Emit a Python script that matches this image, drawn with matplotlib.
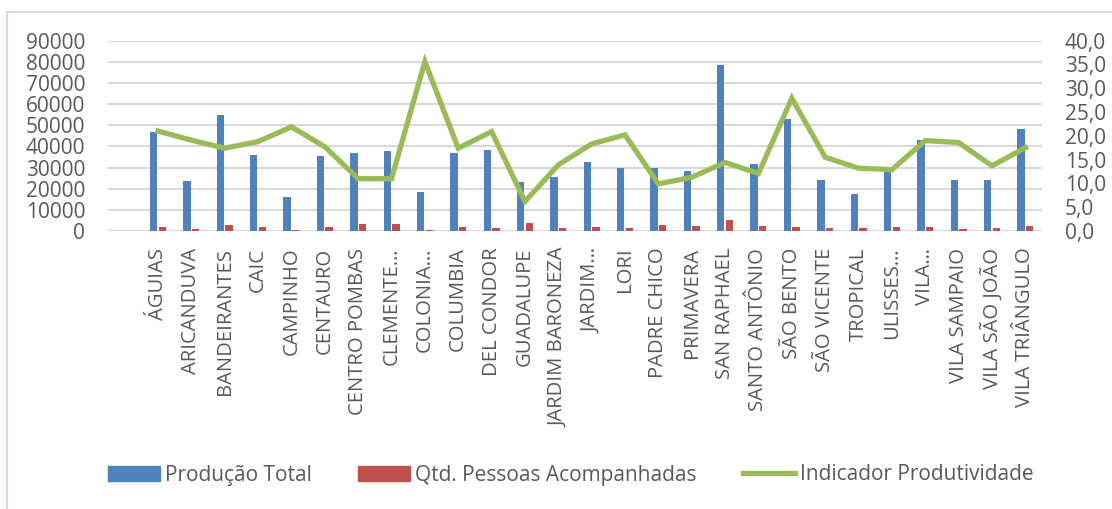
import numpy as np
import matplotlib.pyplot as plt
from matplotlib.patches import Rectangle
from matplotlib.lines import Line2D

plt.rcParams['font.family'] = ['Open Sans', 'DejaVu Sans']

categorias = ['ÁGUIAS', 'ARICANDUVA', 'BANDEIRANTES', 'CAIC', 'CAMPINHO', 'CENTAURO',
              'CENTRO POMBAS', 'CLEMENTE…', 'COLONIA…', 'COLUMBIA', 'DEL CONDOR',
              'GUADALUPE', 'JARDIM BARONEZA', 'JARDIM…', 'LORI', 'PADRE CHICO',
              'PRIMAVERA', 'SAN RAPHAEL', 'SANTO ANTÔNIO', 'SÃO BENTO', 'SÃO VICENTE',
              'TROPICAL', 'ULISSES…', 'VILA…', 'VILA SAMPAIO', 'VILA SÃO JOÃO',
              'VILA TRIÂNGULO']

producao_total = [47000, 23800, 55000, 36000, 16100, 35500, 36750, 38000, 18450,
                  36900, 38500, 23300, 25700, 32650, 30000, 29650, 28200, 78700,
                  31700, 52800, 24300, 17350, 28500, 43000, 24100, 24000, 48100]

qtd_pessoas = [2050, 950, 3000, 1900, 600, 1900, 3150, 3300, 500, 1750, 1600, 3600,
               1600, 1700, 1300, 2850, 2200, 5200, 2400, 1750, 1300, 1300, 1900,
               2050, 950, 1600, 2500]

indicador = [21.0, 19.1, 17.4, 18.8, 21.9, 17.7, 11.0, 11.0, 35.6, 17.4, 20.9, 6.2,
             13.9, 18.3, 20.2, 9.9, 11.3, 14.4, 12.1, 27.9, 15.5, 13.2, 12.9, 19.0,
             18.6, 13.7, 17.5]

azul = '#4f81bd'
vermelho = '#c0504d'
verde = '#9bbb59'
cinza = '#595959'
grade = '#d9d9d9'

fig = plt.figure(figsize=(11.12, 5.09), dpi=100)
ax = fig.add_axes([108 / 1112, 1 - 231 / 509, 934 / 1112, 190.3 / 509])
ax2 = ax.twinx()

x = np.arange(len(categorias))
w = 0.22
ax.bar(x - 0.13, producao_total, w, color=azul, zorder=2)
ax.bar(x + 0.13, qtd_pessoas, w, color=vermelho, zorder=2)
ax2.plot(x, indicador, color=verde, linewidth=3.8, solid_joinstyle='miter', zorder=3)

ax.set_xlim(-1.5, len(categorias) - 0.5)
ax.set_ylim(0, 90000)
ax2.set_ylim(0, 40)
ax.set_yticks(np.arange(0, 90001, 10000))
ax2.set_yticks(np.arange(0, 40.1, 5))
ax2.set_yticklabels([f'{v:.1f}'.replace('.', ',') for v in np.arange(0, 40.1, 5)])

ax.set_xticks(x)
ax.set_xticklabels(categorias, rotation=90, fontsize=14.6, color=cinza)
ax.tick_params(axis='x', length=0, pad=12)
ax.tick_params(axis='y', length=0, pad=16.5, labelsize=15, labelcolor=cinza)
ax2.tick_params(axis='y', length=0, pad=16.5, labelsize=15, labelcolor=cinza)

ax.yaxis.grid(True, color=grade, linewidth=1.5, zorder=0)
ax.set_axisbelow(True)
for a in (ax, ax2):
    for s in a.spines.values():
        s.set_visible(False)
ax.axhline(0, color=grade, linewidth=1.5, zorder=1)

handles = [Rectangle((0, 0), 1, 1, color=azul),
           Rectangle((0, 0), 1, 1, color=vermelho),
           Line2D([0], [0], color=verde, linewidth=3.8)]
fig.legend(handles, ['Produção Total', 'Qtd. Pessoas Acompanhadas', 'Indicador Produtividade'],
           loc='center left', bbox_to_anchor=(108 / 1112, 1 - 475 / 509), ncol=3,
           frameon=False, fontsize=15, labelcolor=cinza, handlelength=2.5,
           handleheight=0.7, handletextpad=0.25, columnspacing=2.2,
           borderaxespad=0, borderpad=0)

fig.patches.append(Rectangle((7 / 1112, -0.1), 1.2, (1 - 12 / 509) + 0.1,
                             transform=fig.transFigure, fill=False,
                             edgecolor=grade, linewidth=1.5))

fig.savefig('out.png', dpi=100)
